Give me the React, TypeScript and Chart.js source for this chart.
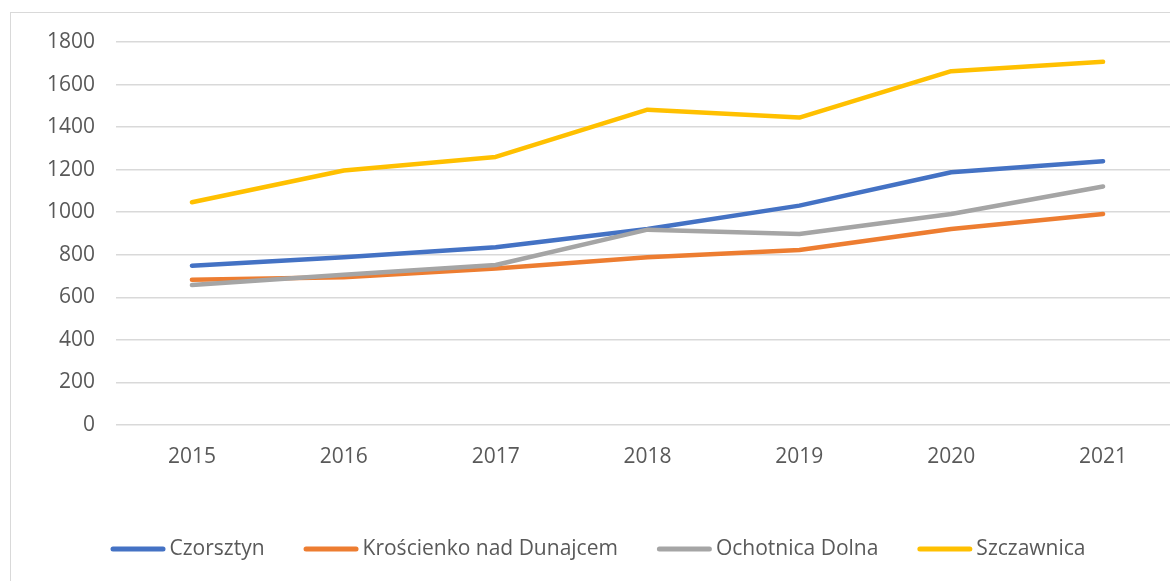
import React, { useEffect, useRef } from "react";
import { Chart, registerables } from "chart.js";

Chart.register(...registerables);

const years = ["2015", "2016", "2017", "2018", "2019", "2020", "2021"];
const czorsztyn = [749, 788, 835, 921, 1031, 1188, 1240];
const kroscienko = [683, 694, 736, 788, 822, 921, 992];
const ochotnica = [658, 706, 752, 918, 898, 992, 1121];
const szczawnica = [1047, 1196, 1260, 1482, 1445, 1663, 1707];
const seriesNames = ["Czorsztyn", "Krościenko nad Dunajcem", "Ochotnica Dolna", "Szczawnica"];
const seriesColors = ["#4472C4", "#ED7D31", "#A5A5A5", "#FFC000"];

const FONT = "'Open Sans', 'Noto Sans', sans-serif";
const TEXT = "#595959";
const W = 1174;
const H = 580;

const legendPlugin = {
  id: "customLegend",
  afterDraw(chart: any) {
    const ctx = chart.ctx;
    ctx.save();
    ctx.font = `21px ${FONT}`;
    const lineW = 55;
    const gapText = 4;
    const gapItem = 39;
    const widths = seriesNames.map((n) => ctx.measureText(n).width);
    let total = 0;
    widths.forEach((w, i) => {
      total += lineW + gapText + w + (i < widths.length - 1 ? gapItem : 0);
    });
    let x = chart.width / 2 - total / 2;
    const y = 536;
    seriesNames.forEach((n, i) => {
      ctx.strokeStyle = seriesColors[i];
      ctx.lineWidth = 5;
      ctx.lineCap = "round";
      ctx.beginPath();
      ctx.moveTo(x + 2.5, y);
      ctx.lineTo(x + lineW - 2.5, y);
      ctx.stroke();
      x += lineW + gapText;
      ctx.fillStyle = TEXT;
      ctx.textBaseline = "middle";
      ctx.textAlign = "left";
      ctx.fillText(n, x, y);
      x += widths[i] + gapItem;
    });
    ctx.restore();
  },
};

export default function App() {
  const ref = useRef<HTMLCanvasElement>(null);
  useEffect(() => {
    document.body.style.margin = "0";
    document.body.style.overflow = "hidden";
    const data = [czorsztyn, kroscienko, ochotnica, szczawnica];
    const chart = new Chart(ref.current!, {
      type: "line",
      data: {
        labels: years,
        datasets: data.map((d, i) => ({
          label: seriesNames[i],
          data: d,
          borderColor: seriesColors[i],
          backgroundColor: seriesColors[i],
          borderWidth: 4.5,
          borderCapStyle: "round" as const,
          borderJoinStyle: "round" as const,
          pointRadius: 0,
          pointHoverRadius: 0,
          tension: 0,
          fill: false,
          order: 3 - i,
        })),
      },
      options: {
        responsive: false,
        animation: false,
        layout: { autoPadding: false, padding: { left: 0, right: 6, top: 29, bottom: 0 } },
        plugins: {
          legend: { display: false },
          tooltip: { enabled: false },
        },
        scales: {
          x: {
            offset: true,
            grid: { display: false, drawTicks: false },
            border: { display: false },
            ticks: {
              color: TEXT,
              font: { family: FONT, size: 21 },
              padding: 19,
              maxRotation: 0,
              autoSkip: false,
            },
            afterFit: (s: any) => {
              s.height = 168;
              s.paddingLeft = 0;
              s.paddingRight = 0;
            },
          },
          y: {
            min: 0,
            max: 1800,
            grid: { color: "#d9d9d9", lineWidth: 1.5, drawTicks: false },
            border: { display: false },
            ticks: {
              stepSize: 200,
              color: TEXT,
              font: { family: FONT, size: 21 },
              padding: 21,
              callback: (v: any) => String(v),
            },
            afterFit: (s: any) => {
              s.width = 105;
              s.paddingTop = 0;
              s.paddingBottom = 0;
            },
          },
        },
      },
      plugins: [legendPlugin],
    });
    return () => chart.destroy();
  }, []);

  return (
    <div
      style={{
        position: "fixed",
        left: 0,
        top: 0,
        width: 1170,
        height: 581,
        overflow: "hidden",
        background: "#fff",
      }}
    >
      <div
        style={{
          position: "absolute",
          left: 10,
          top: 12,
          width: W,
          height: H,
          border: "1px solid #d9d9d9",
          background: "#fff",
        }}
      >
        <canvas ref={ref} width={W} height={H} style={{ display: "block", width: W, height: H }} />
      </div>
    </div>
  );
}
